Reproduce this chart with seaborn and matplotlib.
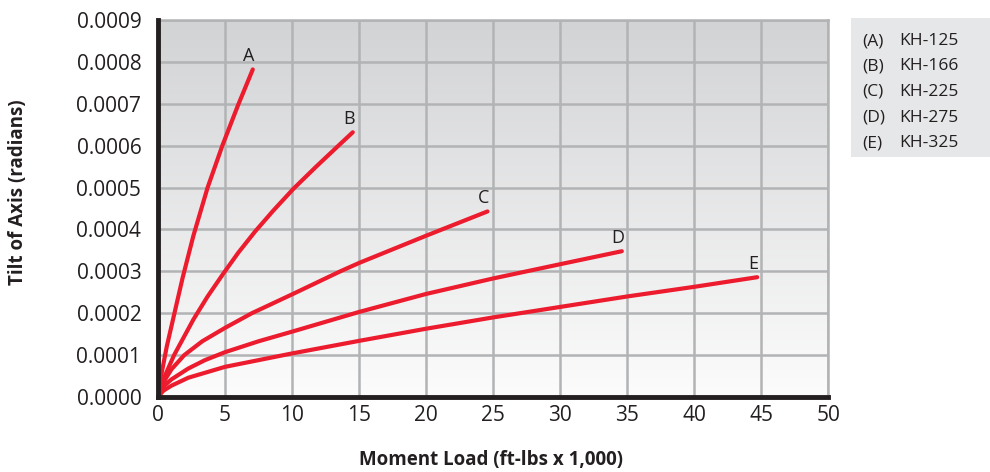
import matplotlib
matplotlib.use('Agg')
import matplotlib.pyplot as plt
import matplotlib.colors as mcolors
import numpy as np
import pandas as pd
import seaborn as sns

# values (tilt in radians)
a_x = [0, 0.2, 0.65, 1.19, 1.84, 2.64, 3.7, 4.8, 5.95, 7.07]
a_y = [0, 0.000045, 0.00012, 0.000195, 0.000285, 0.000385, 0.0005, 0.0006, 0.000695, 0.000782]
b_x = [0, 0.3, 1.2, 2.64, 3.7, 4.88, 6.0, 7.24, 8.6, 10.1, 11.8, 13.46, 14.53]
b_y = [0, 0.000035, 0.0001, 0.000185, 0.00024, 0.000295, 0.000345, 0.000395, 0.000445, 0.000497, 0.00055, 0.0006, 0.000632]
c_x = [0, 0.5, 1.0, 1.96, 3.3, 5.0, 7.0, 10.0, 13.6, 15.0, 20.0, 24.58]
c_y = [0, 0.00004, 0.000066, 0.0001, 0.000133, 0.000165, 0.0002, 0.000245, 0.0003, 0.00032, 0.000385, 0.000443]
d_x = [0, 0.4, 1.0, 2.26, 3.5, 5.0, 7.5, 10.0, 15.0, 20.0, 25.0, 30.0, 34.6]
d_y = [0, 0.000025, 0.000042, 0.000068, 0.000088, 0.000107, 0.000133, 0.000156, 0.000203, 0.000246, 0.000283, 0.000317, 0.000348]
e_x = [0, 0.4, 1.0, 2.26, 5.0, 10.0, 15.0, 20.0, 25.0, 30.0, 35.0, 40.0, 44.7]
e_y = [0, 0.000015, 0.000027, 0.000046, 0.000072, 0.000104, 0.000134, 0.000163, 0.00019, 0.000215, 0.00024, 0.000263, 0.000286]
letters = ['A', 'B', 'C', 'D', 'E']
models = ['KH-125', 'KH-166', 'KH-225', 'KH-275', 'KH-325']

curves = [(a_x, a_y), (b_x, b_y), (c_x, c_y), (d_x, d_y), (e_x, e_y)]
frames = []
for letter, (xs, ys) in zip(letters, curves):
    frames.append(pd.DataFrame({'load': xs, 'tilt': ys, 'curve': letter}))
df = pd.concat(frames, ignore_index=True)

sns.set_style('white')
plt.rcParams['font.family'] = ['Open Sans', 'DejaVu Sans']

fig = plt.figure(figsize=(9.9, 4.72), dpi=100)
ax = fig.add_axes([0.1596, 0.1589, 0.677, 0.7987])

# grey-to-white background
grad = np.linspace(1, 0, 256).reshape(-1, 1)
cmap = mcolors.LinearSegmentedColormap.from_list('bg', ['#fcfcfc', '#d2d3d5'])
ax.imshow(grad, extent=[0, 50, 0, 0.0009], aspect='auto', cmap=cmap,
          origin='upper', zorder=0)

red = '#ec1c2e'
sns.lineplot(data=df, x='load', y='tilt', hue='curve', palette=[red] * 5,
             sort=False, estimator=None, linewidth=3, legend=False, ax=ax,
             zorder=3)
for line in ax.get_lines():
    line.set_solid_joinstyle('round')

for letter, (xs, ys) in zip(letters, curves):
    ax.annotate(letter, (xs[-1], ys[-1]), xytext=(-3, 3),
                textcoords='offset points', ha='center', va='bottom',
                fontsize=13, color='#231f20', zorder=4)

ax.set_xlim(0, 50)
ax.set_ylim(0, 0.0009)
ax.set_xticks(np.arange(0, 51, 5))
ax.set_yticks(np.arange(0, 0.00091, 0.0001))
ax.set_yticklabels([f'{v:.4f}' for v in np.arange(0, 0.00091, 0.0001)])
ax.grid(True, color='#b1b3b5', linewidth=1.8, zorder=1)
for line in ax.get_xgridlines() + ax.get_ygridlines():
    line.set_zorder(1)
ax.tick_params(axis='both', length=0, labelsize=15, colors='#231f20')
ax.tick_params(axis='y', pad=12)
ax.tick_params(axis='x', pad=6)

for side in ['top', 'right']:
    ax.spines[side].set_color('#b1b3b5')
    ax.spines[side].set_linewidth(1.8)
for side in ['left', 'bottom']:
    ax.spines[side].set_color('#231f20')
    ax.spines[side].set_linewidth(3.5)
    ax.spines[side].set_zorder(5)

ax.set_xlabel('')
ax.set_ylabel('')
fig.text(0.496, 0.025, 'Moment Load (ft-lbs x 1,000)', ha='center',
         va='center', fontsize=13.5, fontweight='bold', color='#231f20')
fig.text(0.018, 0.593, 'Tilt of Axis (radians)', ha='center', va='center',
         rotation=90, fontsize=13.5, fontweight='bold', color='#231f20')

# key box on the right
key = plt.Rectangle((851 / 990, 1 - 157 / 472), 139 / 990, 139 / 472,
                    transform=fig.transFigure, facecolor='#e6e7e8',
                    edgecolor='none')
fig.patches.append(key)
for i, (letter, model) in enumerate(zip(letters, models)):
    yy = 1 - (41 + i * 25.5) / 472
    fig.text(862 / 990, yy, f'({letter})', ha='left', va='center',
             fontsize=12.5, color='#231f20')
    fig.text(899 / 990, yy, model, ha='left', va='center',
             fontsize=12.5, color='#231f20')

fig.savefig('out.png', dpi=100)
